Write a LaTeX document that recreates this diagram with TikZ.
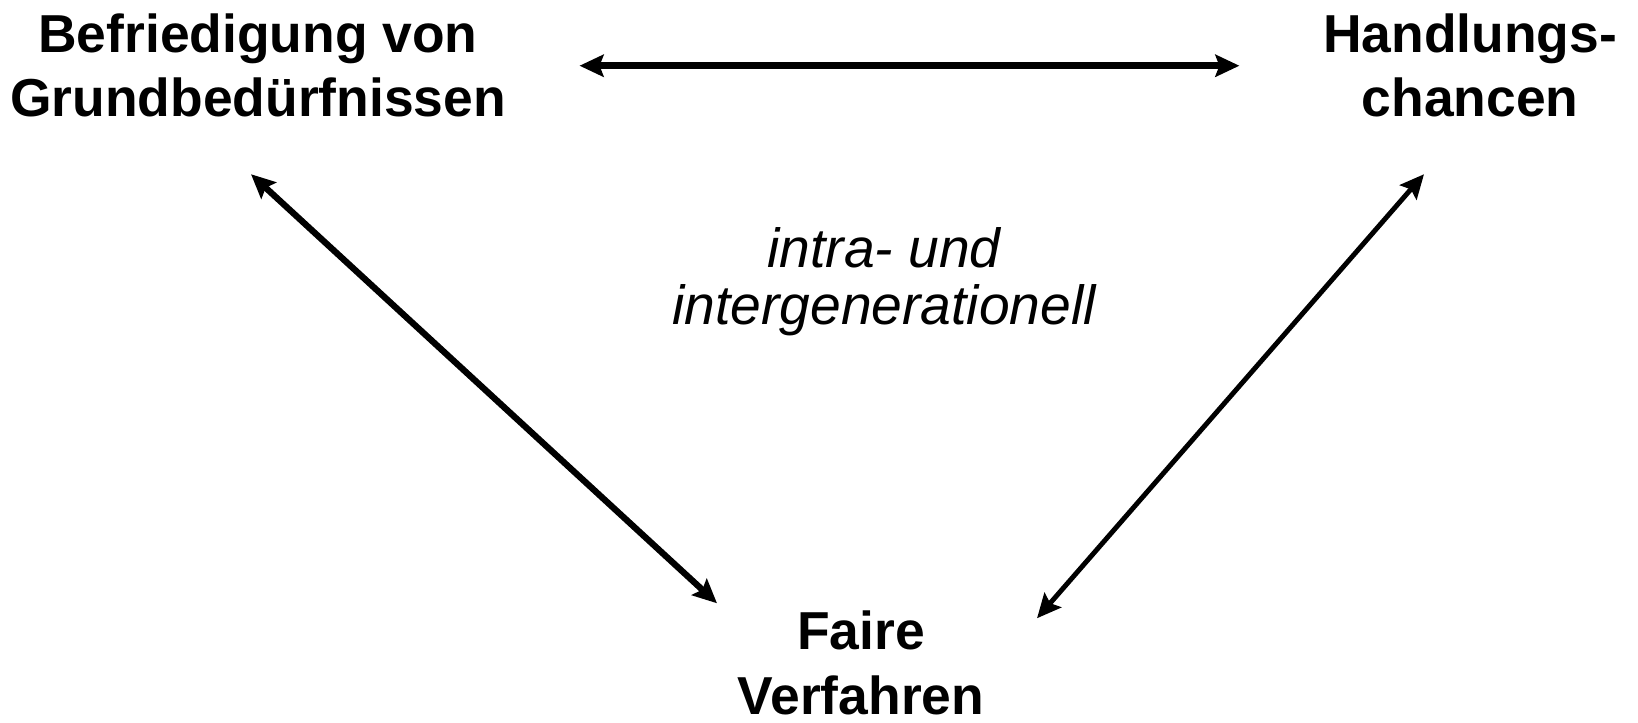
\documentclass[tikz,border=0pt]{standalone}
\usepackage{fontspec}
\setmainfont{Liberation Sans}
\usetikzlibrary{arrows.meta}
\begin{document}
\begin{tikzpicture}[lbl/.style = {align = center, inner sep = 0pt, anchor = base, font = \fontsize{15.2}{18.3}\selectfont\bfseries},
  arr/.style = {{Stealth[inset = 0.4mm, length = 2.4mm, width = 2.2mm]}-{Stealth[inset = 0.4mm, length = 2.4mm, width = 2.2mm]}}]
\useasboundingbox (0,0) rectangle (16.38,7.22);
\node [lbl] (bef) at (2.58,6.05) {Befriedigung von\\Grundbedürfnissen};
\node [lbl] (hand) at (14.70,6.05) {Handlungs-\\chancen};
\node [lbl] (faire) at (8.61,0.08) {Faire\\Verfahren};
\node [lbl, font = \fontsize{15.7}{16.5}\selectfont\itshape] (gen) at (8.84,3.97) {intra- und\\intergenerationell};
\draw [arr, line width = 1.9pt, shorten < = 0.73cm, shorten > = 0.83cm] (bef.east) -- (hand.west);
\draw [arr, line width = 1.8pt] ([shift = {(-0.07,-0.56)}]bef.south) -- ([shift = {(-1.44,0.07)}]faire.north);
\draw [arr, line width = 1.4pt] ([shift = {(1.76,-0.08)}]faire.north) -- ([shift = {(-0.46,-0.56)}]hand.south);
\end{tikzpicture}
\end{document}
